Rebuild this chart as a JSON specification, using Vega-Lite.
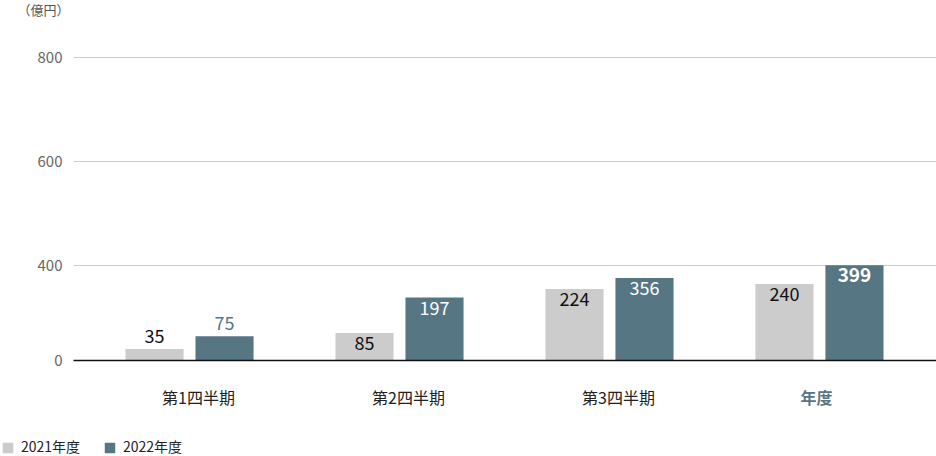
{
  "$schema": "https://vega.github.io/schema/vega-lite/v6.json",
  "width": 863,
  "height": 303,
  "autosize": "none",
  "padding": {"left": 73, "top": 57, "right": 0, "bottom": 96},
  "config": {
    "font": "Noto Sans CJK JP",
    "view": {"stroke": null}
  },
  "data": {
    "values": [
      {"period": "第1四半期", "year": "2021年度", "value": 35},
      {"period": "第1四半期", "year": "2022年度", "value": 75},
      {"period": "第2四半期", "year": "2021年度", "value": 85},
      {"period": "第2四半期", "year": "2022年度", "value": 197},
      {"period": "第3四半期", "year": "2021年度", "value": 224},
      {"period": "第3四半期", "year": "2022年度", "value": 356},
      {"period": "年度", "year": "2021年度", "value": 240},
      {"period": "年度", "year": "2022年度", "value": 399}
    ]
  },
  "encoding": {
    "x": {
      "field": "period",
      "type": "nominal",
      "sort": null,
      "title": null,
      "scale": {"paddingInner": 0, "paddingOuter": 0.055},
      "axis": {
        "labelAngle": 0,
        "labelFontSize": 16,
        "labelPadding": 30,
        "labelOffset": {"condition": {"test": "datum.value == '年度'", "value": -3}, "value": 9},
        "labelColor": {"condition": {"test": "datum.value == '年度'", "value": "#577684"}, "value": "#222222"},
        "labelFontWeight": {"condition": {"test": "datum.value == '年度'", "value": "bold"}, "value": "normal"},
        "ticks": false,
        "domainColor": "#111111",
        "domainWidth": 1.5,
        "zindex": 1
      }
    },
    "xOffset": {
      "field": "year",
      "type": "nominal",
      "scale": {"paddingInner": 0.17, "paddingOuter": 0.585}
    },
    "y": {
      "field": "value",
      "type": "quantitative",
      "scale": {
        "domain": [0, 240, 356, 400, 600, 800],
        "range": [303, 227, 221, 208, 104, 0],
        "nice": false
      },
      "axis": {
        "values": [0, 400, 600, 800],
        "title": "（億円）",
        "titleAngle": 0,
        "titleAlign": "right",
        "titleBaseline": "middle",
        "titleX": -4,
        "titleY": -47,
        "titleFontSize": 13,
        "titleFontWeight": "normal",
        "titleColor": "#555555",
        "labelFontSize": 15,
        "labelColor": "#666666",
        "labelPadding": 11,
        "ticks": false,
        "domain": false,
        "gridColor": "#cccccc",
        "gridWidth": 1
      }
    }
  },
  "layer": [
    {
      "mark": {"type": "bar"},
      "encoding": {
        "color": {
          "field": "year",
          "type": "nominal",
          "scale": {"domain": ["2021年度", "2022年度"], "range": ["#cccccc", "#577684"]},
          "legend": {
            "title": null,
            "orient": "none",
            "direction": "horizontal",
            "legendX": -72,
            "legendY": 384,
            "symbolType": "square",
            "symbolSize": 110,
            "symbolStrokeWidth": 0,
            "labelFontSize": 14,
            "labelColor": "#222222",
            "labelOffset": 6,
            "columnPadding": 22
          }
        }
      }
    },
    {
      "transform": [{"filter": "datum.value < 80"}],
      "mark": {"type": "text", "baseline": "bottom", "dy": -2, "fontSize": 18},
      "encoding": {
        "text": {"field": "value", "type": "quantitative"},
        "color": {"condition": {"test": "datum.year == '2022年度'", "value": "#577684"}, "value": "#111111"}
      }
    },
    {
      "transform": [{"filter": "datum.value >= 80 && datum.value != 399"}],
      "mark": {"type": "text", "baseline": "top", "dy": 3, "fontSize": 18},
      "encoding": {
        "text": {"field": "value", "type": "quantitative"},
        "color": {"condition": {"test": "datum.year == '2022年度'", "value": "#ffffff"}, "value": "#111111"}
      }
    },
    {
      "transform": [{"filter": "datum.value == 399"}],
      "mark": {"type": "text", "baseline": "top", "dy": 2, "fontSize": 19, "fontWeight": "bold", "color": "#ffffff"},
      "encoding": {
        "text": {"field": "value", "type": "quantitative"}
      }
    }
  ]
}
